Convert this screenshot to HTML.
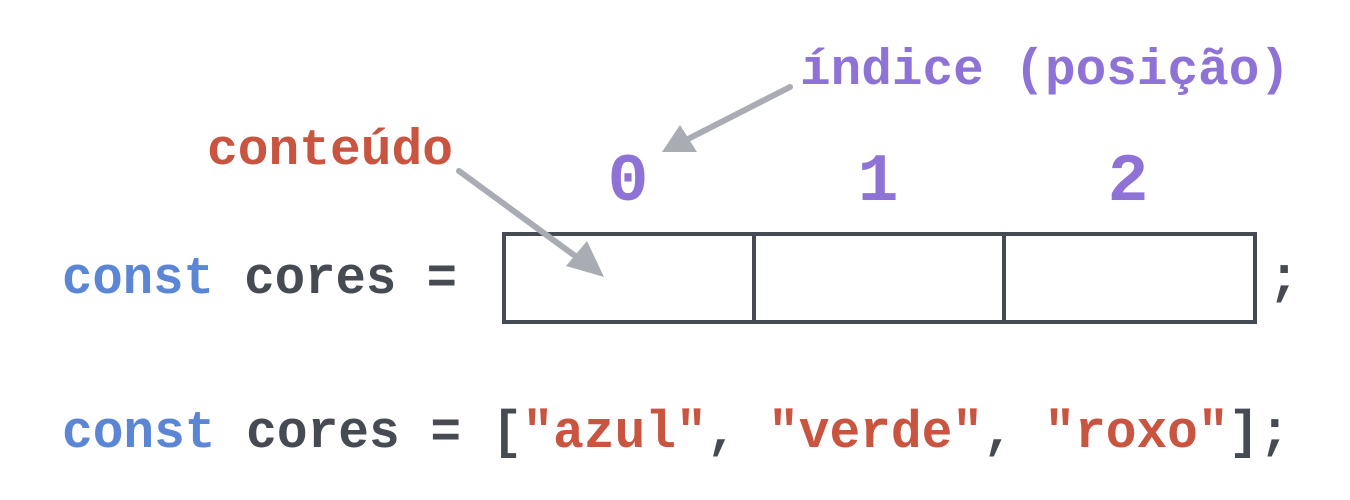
<!DOCTYPE html>
<html><head><meta charset="utf-8"><style>
html,body{margin:0;padding:0;background:#fff;}
svg{display:block}
text{font-family:"Liberation Mono",monospace;font-weight:bold;}
</style></head><body>
<svg width="1350" height="500" viewBox="0 0 1350 500">
<text x="62" y="293" font-size="53" textLength="395" lengthAdjust="spacingAndGlyphs"><tspan fill="#5b86d6">const</tspan><tspan fill="#464a52"> cores =</tspan></text>
<rect x="504" y="234" width="751" height="88" fill="none" stroke="#464a52" stroke-width="4"/>
<line x1="754" y1="234" x2="754" y2="322" stroke="#464a52" stroke-width="4"/>
<line x1="1004" y1="234" x2="1004" y2="322" stroke="#464a52" stroke-width="4"/>
<text x="1268" y="293" font-size="53" fill="#464a52">;</text>
<text x="628" y="200" font-size="68" fill="#8e72d6" text-anchor="middle">0</text>
<text x="878" y="200" font-size="68" fill="#8e72d6" text-anchor="middle">1</text>
<text x="1128" y="200" font-size="68" fill="#8e72d6" text-anchor="middle">2</text>
<text x="800" y="84" font-size="51" fill="#8e72d6" textLength="490" lengthAdjust="spacingAndGlyphs">índice (posição)</text>
<text x="207" y="164" font-size="51" fill="#c95440" textLength="246" lengthAdjust="spacingAndGlyphs">conteúdo</text>
<line x1="790" y1="87" x2="688" y2="139" stroke="#a9adb3" stroke-width="6" stroke-linecap="round"/>
<polygon points="662,152 680,125 697,152" fill="#a9adb3"/>
<line x1="459" y1="171" x2="582" y2="261" stroke="#a9adb3" stroke-width="6" stroke-linecap="round"/>
<polygon points="604,277 566,266 587,241" fill="#a9adb3"/>
<text x="62" y="447" font-size="53" textLength="1228" lengthAdjust="spacingAndGlyphs"><tspan fill="#5b86d6">const</tspan><tspan fill="#464a52"> cores = [</tspan><tspan fill="#c95440">"azul"</tspan><tspan fill="#464a52">, </tspan><tspan fill="#c95440">"verde"</tspan><tspan fill="#464a52">, </tspan><tspan fill="#c95440">"roxo"</tspan><tspan fill="#464a52">];</tspan></text>
</svg>
</body></html>
